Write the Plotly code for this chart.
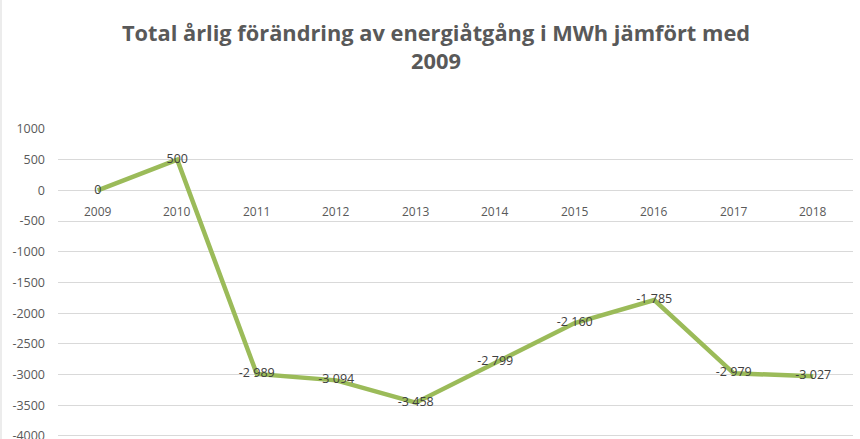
import plotly.graph_objects as go

years = ["2009", "2010", "2011", "2012", "2013", "2014", "2015", "2016", "2017", "2018"]
values = [0, 500, -2989, -3094, -3458, -2799, -2160, -1785, -2979, -3027]
labels = ["0", "500", "-2 989", "-3 094", "-3 458", "-2 799", "-2 160", "-1 785", "-2 979", "-3 027"]
y_ticks = [1000, 500, 0, -500, -1000, -1500, -2000, -2500, -3000, -3500, -4000]

FONT = "Open Sans, Lato, sans-serif"

fig = go.Figure()
fig.add_trace(go.Scatter(
    x=list(range(len(years))), y=values, mode="lines+text",
    line=dict(color="#9BBB59", width=4.5),
    text=labels, textposition="middle center",
    textfont=dict(family=FONT, size=12.5, color="#404040"),
    hoverinfo="skip", cliponaxis=False,
))

for i, yr in enumerate(years):
    fig.add_annotation(x=i, y=0, xref="x", yref="y", text=yr, showarrow=False,
                       yshift=-21, font=dict(family=FONT, size=12, color="#595959"))

fig.update_layout(
    width=860, height=439,
    margin=dict(l=58, r=7, t=129, b=0, autoexpand=False),
    paper_bgcolor="white", plot_bgcolor="white",
    showlegend=False,
    title=dict(text="Total årlig förändring av energiåtgång i MWh jämfört med<br>2009",
               x=0.507, xanchor="center", y=1 - 41 / 439, yanchor="top",
               font=dict(family=FONT, size=21.8, color="#595959", weight="bold")),
    xaxis=dict(showticklabels=False, showgrid=False, zeroline=False,
               range=[-0.5, 9.5], fixedrange=True, automargin=False),
    yaxis=dict(range=[-4049, 1000], tickvals=y_ticks, ticktext=[str(v) for v in y_ticks],
               showgrid=True, gridcolor="#D9D9D9", gridwidth=1, zeroline=True, zerolinecolor="#D9D9D9",
               zerolinewidth=1, ticks="", ticklabelstandoff=12, automargin=False,
               ticklabeloverflow="allow",
               tickfont=dict(family=FONT, size=12.5, color="#595959")),
    shapes=[dict(type="line", xref="paper", yref="paper", x0=-57/795, x1=-57/795, y0=-1, y1=2,
                 line=dict(color="#D9D9D9", width=1))],
)

fig.write_html("out.html", config={"displayModeBar": False},
               post_script="document.body.style.margin='0';document.body.style.overflow='hidden';")
